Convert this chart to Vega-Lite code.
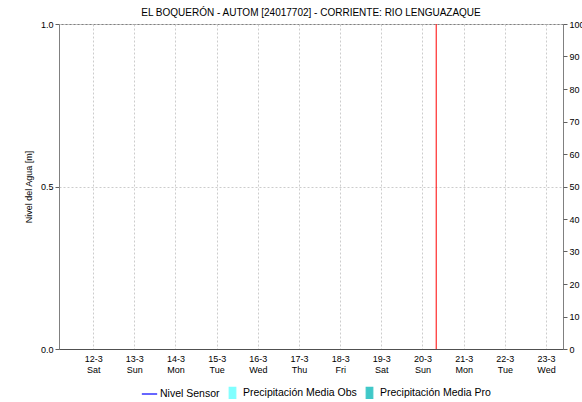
{
  "$schema": "https://vega.github.io/schema/vega-lite/v6.json",
  "width": 504,
  "height": 325,
  "autosize": {"type": "none"},
  "padding": {"left": 59, "top": 24, "right": 19, "bottom": 53},
  "background": "white",
  "config": {
    "font": "Liberation Sans",
    "view": {"stroke": "#808080", "strokeWidth": 1},
    "axis": {"labelFont": "Liberation Sans", "titleFont": "Liberation Sans", "labelFontSize": 9, "labelColor": "#000000", "domainColor": "#808080", "tickColor": "#606060", "titleFontWeight": "normal", "titleColor": "#000000"},
    "legend": {"labelFont": "Liberation Sans"}
  },
  "title": {"text": "EL BOQUERÓN - AUTOM [24017702] - CORRIENTE: RIO LENGUAZAQUE", "fontSize": 10, "fontWeight": "normal", "font": "Liberation Sans", "color": "#000000", "offset": 2},
  "datasets": {
    "ahora": [{"fecha": "2022-03-20T08:00:00Z"}],
    "precip": [
      {"fecha": "2022-03-12T00:00:00Z", "precipitacion": 0},
      {"fecha": "2022-03-13T00:00:00Z", "precipitacion": 0},
      {"fecha": "2022-03-14T00:00:00Z", "precipitacion": 0},
      {"fecha": "2022-03-15T00:00:00Z", "precipitacion": 0},
      {"fecha": "2022-03-16T00:00:00Z", "precipitacion": 0},
      {"fecha": "2022-03-17T00:00:00Z", "precipitacion": 0},
      {"fecha": "2022-03-18T00:00:00Z", "precipitacion": 0},
      {"fecha": "2022-03-19T00:00:00Z", "precipitacion": 0},
      {"fecha": "2022-03-20T00:00:00Z", "precipitacion": 0}
    ],
    "series": [
      {"serie": "Nivel Sensor", "fecha": "2022-03-12T00:00:00Z", "nivel": 0},
      {"serie": "Precipitación Media Obs", "fecha": "2022-03-12T00:00:00Z", "nivel": 0},
      {"serie": "Precipitación Media Pro", "fecha": "2022-03-12T00:00:00Z", "nivel": 0}
    ]
  },
  "layer": [
    {
      "data": {"name": "ahora"},
      "mark": {"type": "rule", "stroke": "#ff0000", "strokeWidth": 1, "opacity": 1},
      "encoding": {
        "x": {
          "field": "fecha", "type": "temporal",
          "scale": {"type": "utc", "domain": [{"year": 2022, "month": 3, "date": 11, "hours": 7, "utc": true}, {"year": 2022, "month": 3, "date": 23, "hours": 7, "utc": true}]},
          "axis": {"title": null, "orient": "bottom", "tickCount": {"interval": "day", "step": 1}, "labelExpr": "[utcFormat(datum.value, '%-d-%-m'), utcFormat(datum.value, '%a')]", "grid": true, "gridDash": [2, 2], "gridColor": "#cccccc", "ticks": false, "labelPadding": 5, "labelLineHeight": 11, "labelFlush": false, "labelOverlap": false, "domain": true, "domainColor": "#505050"}
        }
      }
    },
    {
      "data": {"name": "precip"},
      "mark": {"type": "bar", "color": "#80ffff"},
      "encoding": {
        "x": {"field": "fecha", "type": "temporal"},
        "y": {"field": "precipitacion", "type": "quantitative", "scale": {"domain": [0, 100], "nice": false}, "axis": {"orient": "right", "title": null, "values": [0, 10, 20, 30, 40, 50, 60, 70, 80, 90, 100], "grid": false, "tickSize": 4, "labelPadding": 2, "domain": false}}
      }
    },
    {
      "data": {"name": "series"},
      "mark": {"type": "point", "filled": true, "opacity": 0},
      "encoding": {
        "x": {"field": "fecha", "type": "temporal"},
        "y": {"field": "nivel", "type": "quantitative", "scale": {"domain": [0, 1], "nice": false}, "axis": {"orient": "left", "title": "Nivel del Agua [m]", "titleFontSize": 9, "titlePadding": 7, "values": [0, 0.5, 1], "format": ".1f", "grid": true, "gridDash": [2, 2], "gridColor": "#cccccc", "tickSize": 4, "labelPadding": 2, "domain": false}},
        "fill": {"field": "serie", "type": "nominal", "scale": {"domain": ["Nivel Sensor", "Precipitación Media Obs", "Precipitación Media Pro"], "range": ["#0000ff", "#80ffff", "#40c8c8"]}, "legend": {"title": null, "orient": "none", "legendX": 84, "legendY": 362, "direction": "horizontal", "labelFontSize": 10.5, "symbolOpacity": 1, "symbolSize": 120, "symbolStrokeWidth": 1.2, "columnPadding": 6, "labelOffset": 4, "encode": {"symbols": {"update": {"fillOpacity": {"value": 1}, "strokeOpacity": {"value": 1}}}}}},
        "stroke": {"field": "serie", "type": "nominal", "scale": {"domain": ["Nivel Sensor", "Precipitación Media Obs", "Precipitación Media Pro"], "range": ["#0000ff", "#80ffff", "#40c8c8"]}},
        "shape": {"field": "serie", "type": "nominal", "scale": {"domain": ["Nivel Sensor", "Precipitación Media Obs", "Precipitación Media Pro"], "range": ["M-1.4,0H1.4", "M-0.6,-1H0.6V1H-0.6Z", "M-0.6,-1H0.6V1H-0.6Z"]}}
      }
    }
  ],
  "resolve": {"scale": {"y": "independent"}, "axis": {"y": "independent"}}
}
